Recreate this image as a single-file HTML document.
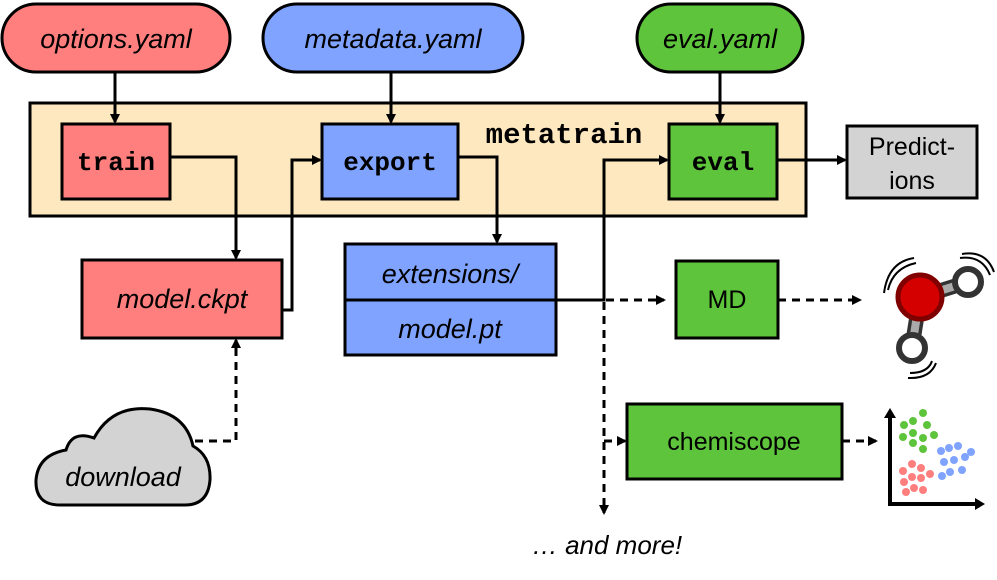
<!DOCTYPE html>
<html><head><meta charset="utf-8"><style>html,body{margin:0;padding:0;background:#fff}svg{display:block}</style></head><body>
<svg width="997" height="580" viewBox="0 0 997 580" xmlns="http://www.w3.org/2000/svg" font-family="Liberation Sans, sans-serif">
<defs>
<marker id="a" markerWidth="10" markerHeight="10" refX="8" refY="5" orient="auto" markerUnits="userSpaceOnUse"><path d="M0,0 L10,5 L0,10 Z" fill="#000"/></marker>
</defs>
<g stroke="#000" stroke-width="3">
<rect x="2" y="4" width="228" height="68" rx="34" fill="#ff7f7f"/>
<rect x="263" y="4" width="260" height="68" rx="34" fill="#7fa3ff"/>
<rect x="637" y="4" width="166" height="68" rx="34" fill="#5ec43c"/>
<rect x="30" y="103" width="776" height="113" fill="#fde8c0"/>
<rect x="62" y="124" width="108" height="75" fill="#ff7f7f"/>
<rect x="322" y="124" width="136" height="75" fill="#7fa3ff"/>
<rect x="669" y="124" width="108" height="75" fill="#5ec43c"/>
<rect x="847" y="126" width="130" height="72" fill="#d3d3d3"/>
<rect x="82" y="260" width="200" height="78" fill="#ff7f7f"/>
<rect x="345" y="244" width="211" height="111" fill="#7fa3ff"/>
<line x1="345" y1="300" x2="556" y2="300"/>
<rect x="676" y="261" width="102" height="77" fill="#5ec43c"/>
<rect x="627" y="404" width="215" height="75" fill="#5ec43c"/>
<path d="M60 505 Q35 505 36 480 Q38 455 66 450 Q72 430 94 438 Q112 405 150 409 Q186 414 193 446 Q211 456 210 480 Q208 505 185 505 Z" fill="#d3d3d3"/>
</g>
<g stroke="#000" stroke-width="3" fill="none">
<line x1="115" y1="72" x2="115" y2="122" marker-end="url(#a)"/>
<line x1="391" y1="72" x2="391" y2="122" marker-end="url(#a)"/>
<line x1="720" y1="72" x2="720" y2="122" marker-end="url(#a)"/>
<path d="M170 157 H236 V258" marker-end="url(#a)"/>
<path d="M282 310 H292 V160 H320" marker-end="url(#a)"/>
<path d="M458 157 H497 V242" marker-end="url(#a)"/>
<path d="M556 300 H604 V160 H667" marker-end="url(#a)"/>
<path d="M777 160 H845" marker-end="url(#a)"/>
</g>
<g stroke="#000" stroke-width="3" fill="none" stroke-dasharray="8,6">
<path d="M606 300 H664" marker-end="url(#a)"/>
<path d="M604 302 V513" marker-end="url(#a)"/>
<path d="M604 441 H625" marker-end="url(#a)"/>
<path d="M778 300 H860" marker-end="url(#a)"/>
<path d="M842 441 H876" marker-end="url(#a)"/>
<path d="M195 441 H236 V340" marker-end="url(#a)"/>
</g>
<g font-size="27" text-anchor="middle" font-style="italic">
<text x="116" y="48">options.yaml</text>
<text x="393" y="48">metadata.yaml</text>
<text x="720" y="48">eval.yaml</text>
<text x="182" y="308">model.ckpt</text>
<text x="450" y="283">extensions/</text>
<text x="450" y="338">model.pt</text>
<text x="123" y="486">download</text>
<text x="607" y="554" font-size="26">… and more!</text>
</g>
<g font-family="Liberation Mono, monospace" font-weight="bold" text-anchor="middle" font-size="26">
<text x="116" y="170">train</text>
<text x="390" y="170">export</text>
<text x="723" y="170">eval</text>
<text x="564" y="143" font-size="29">metatrain</text>
</g>
<g font-size="25" text-anchor="middle">
<text x="912" y="155">Predict-</text>
<text x="912" y="189">ions</text>
<text x="727" y="308">MD</text>
<text x="734" y="450">chemiscope</text>
</g>
<g>
<line x1="920" y1="297" x2="968" y2="282" stroke="#333" stroke-width="15"/>
<line x1="920" y1="297" x2="968" y2="282" stroke="#aaa" stroke-width="8"/>
<line x1="920" y1="297" x2="912" y2="347" stroke="#333" stroke-width="15"/>
<line x1="920" y1="297" x2="912" y2="347" stroke="#aaa" stroke-width="8"/>
<circle cx="920" cy="297" r="22" fill="#d40000" stroke="#800000" stroke-width="5"/>
<circle cx="968" cy="282" r="13" fill="#fff" stroke="#333" stroke-width="6"/>
<circle cx="912" cy="348" r="13" fill="#fff" stroke="#333" stroke-width="6"/>
<g fill="none" stroke="#000" stroke-width="2">
<path d="M888 290 Q893 268 916 263"/><path d="M884 293 Q888 262 914 258"/>
<path d="M960 258 Q982 255 990 275"/><path d="M962 254 Q986 250 994 272"/>
<path d="M910 373 Q928 373 932 361"/><path d="M908 378 Q930 379 936 363"/>
</g>
</g>
<g>
<path d="M890 415 V504 H978" fill="none" stroke="#000" stroke-width="4"/>
<path d="M884 418 L890 408 L896 418 Z M975 498 L985 504 L975 510 Z" fill="#000"/>
<g fill="#5ec43c"><circle cx="923" cy="413" r="4"/><circle cx="904" cy="425" r="4"/><circle cx="913" cy="421" r="4"/><circle cx="927" cy="425" r="4"/><circle cx="903" cy="437" r="4"/><circle cx="913" cy="433" r="4"/><circle cx="923" cy="438" r="4"/><circle cx="934" cy="435" r="4"/><circle cx="913" cy="443" r="4"/><circle cx="923" cy="449" r="4"/></g>
<g fill="#7fa3ff"><circle cx="941" cy="451" r="4"/><circle cx="949" cy="448" r="4"/><circle cx="958" cy="446" r="4"/><circle cx="971" cy="452" r="4"/><circle cx="944" cy="462" r="4"/><circle cx="954" cy="460" r="4"/><circle cx="965" cy="457" r="4"/><circle cx="942" cy="476" r="4"/><circle cx="950" cy="472" r="4"/><circle cx="962" cy="470" r="4"/></g>
<g fill="#ff7f7f"><circle cx="903" cy="471" r="4"/><circle cx="912" cy="464" r="4"/><circle cx="921" cy="468" r="4"/><circle cx="930" cy="474" r="4"/><circle cx="904" cy="482" r="4"/><circle cx="912" cy="477" r="4"/><circle cx="921" cy="478" r="4"/><circle cx="906" cy="492" r="4"/><circle cx="914" cy="488" r="4"/><circle cx="923" cy="490" r="4"/></g>
</g>
</svg>
</body></html>
